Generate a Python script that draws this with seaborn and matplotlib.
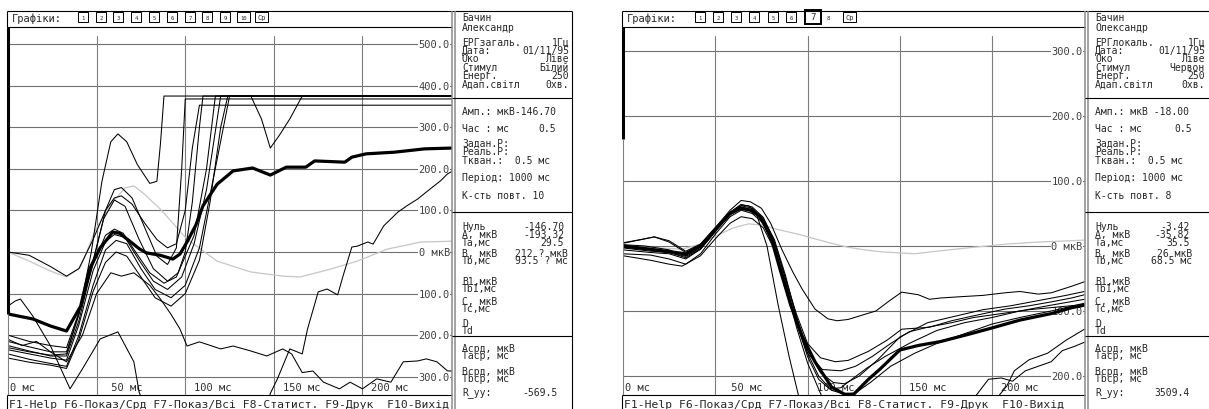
import matplotlib
matplotlib.use("Agg")
import matplotlib.pyplot as plt
import matplotlib.transforms as mtransforms
from matplotlib.patches import Rectangle
from matplotlib.font_manager import FontProperties
import seaborn as sns

sns.set_style("white")
plt.rcParams["font.family"] = ["DejaVu Sans Mono", "DejaVu Sans"]

# ---------------- left screen: ЕРГ загальна, 10 curves, ms / мкВ
left_mean_t = [0, 14, 24, 33, 41, 46, 52, 56, 59, 63, 69, 74, 78, 86, 93, 97, 101, 106, 110, 118, 127, 138, 148, 157, 168, 173, 190, 194, 202, 218, 235, 251]
left_mean_v = [-149, -161, -178, -190, -130, -41, 10, 31, 48, 45, 25, 8, -2, -8, -17, -5, 24, 65, 111, 163, 195, 202, 185, 204, 204, 219, 216, 228, 236, 240, 248, 250]
left_gray_t = [0, 12, 24, 33, 41, 49, 58, 66, 71, 77, 86, 101, 118, 137, 155, 165, 182, 197, 214, 233, 251]
left_gray_v = [0, -22, -46, -60, -36, 50, 115, 154, 159, 139, 103, 31, -22, -48, -58, -60, -41, -22, 7, 24, 26]

l1_t = [0, 12, 24, 33, 40, 48, 55, 60, 64, 70, 77, 84, 90, 95, 100, 104, 108, 251]
l1_v = [0, -8, -35, -58, -40, 30, 100, 130, 135, 115, 70, 30, 10, 20, 100, 250, 353, 353]
l2_t = [0, 12, 24, 33, 40, 47, 53, 58, 62, 67, 73, 80, 84, 86, 88, 251]
l2_v = [-215, -228, -240, -240, -150, 0, 170, 265, 284, 265, 210, 165, 170, 260, 375, 375]
l3_t = [0, 12, 24, 33, 40, 48, 55, 60, 64, 70, 77, 84, 90, 95, 98, 100, 251]
l3_v = [-225, -238, -250, -250, -165, -25, 100, 150, 155, 130, 60, -10, -30, 10, 200, 368, 368]
l4_t = [0, 12, 24, 33, 40, 48, 55, 60, 65, 72, 80, 88, 95, 105, 112, 117, 137, 143, 148, 153, 159, 166, 251]
l4_v = [-200, -215, -225, -230, -145, -30, 40, 55, 45, 0, -50, -75, -60, 40, 200, 375, 375, 320, 250, 280, 320, 375, 375]
l5_t = [0, 12, 24, 33, 40, 48, 55, 60, 66, 74, 82, 90, 98, 105, 112, 120, 251]
l5_v = [-235, -245, -255, -260, -175, -45, 25, 42, 35, -20, -70, -90, -60, 20, 150, 375, 375]
l6_t = [0, 12, 24, 33, 40, 48, 55, 61, 67, 75, 83, 92, 100, 108, 116, 125, 251]
l6_v = [-245, -258, -268, -275, -200, -80, 5, 28, 20, -40, -90, -110, -80, 10, 180, 375, 375]
l7_t = [0, 4, 7, 14, 24, 35, 42, 52, 62, 71, 74, 78, 146, 148, 152, 159, 166, 169, 175, 180, 186, 189, 194, 197, 203, 206, 212, 220, 225, 231, 238, 244, 248, 251]
l7_v = [-130, -118, -113, -154, -226, -329, -281, -209, -192, -264, -337, -380, -380, -340, -305, -233, -245, -185, -96, -89, -103, -58, 12, 14, 24, 19, 63, 96, 111, 127, 151, 171, 188, 195]
l8_t = [0, 8, 16, 24, 33, 42, 50, 58, 64, 71, 80, 86, 92, 97, 101, 108, 120, 127, 137, 146, 155, 160, 166, 172, 178, 187, 193, 200, 208, 216, 223, 231, 236, 242, 248, 251]
l8_v = [-210, -225, -215, -240, -264, -200, -100, -50, -58, -50, -80, -113, -150, -185, -226, -216, -233, -226, -238, -250, -233, -245, -290, -286, -313, -329, -313, -329, -305, -313, -264, -262, -257, -264, -286, -286]
l9_t = [0, 12, 24, 33, 40, 48, 55, 61, 67, 75, 83, 92, 100, 108, 114, 120, 124, 251]
l9_v = [-255, -265, -272, -280, -210, -95, -25, 0, -10, -60, -110, -130, -100, -20, 120, 300, 375, 375]
l10_t = [0, 12, 24, 33, 40, 48, 54, 60, 66, 74, 82, 90, 96, 100, 104, 108, 110, 251]
l10_v = [-230, -240, -248, -245, -150, -20, 80, 125, 110, 30, -40, -70, -50, 0, 120, 300, 375, 375]

left_yticks = [500, 400, 300, 200, 100, 0, -100, -200, -300]
left_ylabels = ["500.0", "400.0", "300.0", "200.0", "100.0", "0 мкВ", "100.0", "200.0", "300.0"]

# ---------------- right screen: ЕРГ локальна, 8 curves
right_mean_t = [0, 15, 23, 34, 42, 50, 58, 64, 69, 74, 80, 85, 91, 97, 104, 113, 120, 125, 133, 139, 150, 160, 172, 187, 200, 215, 232, 243, 250]
right_mean_v = [0, -5, -8, -12, 0, 26, 50, 58, 55, 46, 15, -35, -92, -138, -178, -217, -228, -228, -205, -190, -160, -153, -147, -136, -126, -114, -104, -95, -91]
right_gray_t = [0, 20, 32, 42, 50, 60, 68, 76, 83, 95, 104, 113, 122, 131, 140, 158, 170, 190, 208, 225, 250]
right_gray_v = [0, -3, -5, 3, 15, 28, 34, 32, 26, 18, 11, 4, -2, -6, -9, -12, -8, -2, 3, 6, 9]

r1_t = [0, 10, 17, 25, 34, 42, 50, 58, 64, 69, 75, 80, 86, 92, 97, 104, 111, 116, 122, 130, 137, 144, 151, 160, 166, 172, 183, 195, 207, 215, 225, 232, 243, 250]
r1_v = [5, 10, 14, 8, -8, 3, 28, 55, 70, 68, 58, 35, -5, -40, -66, -97, -112, -115, -113, -106, -100, -85, -71, -75, -82, -80, -78, -76, -72, -70, -74, -72, -62, -55]
r2_t = [0, 15, 25, 34, 42, 50, 58, 64, 70, 76, 82, 88, 94, 100, 107, 115, 122, 133, 143, 151, 166, 178, 189, 207, 220, 232, 243, 250]
r2_v = [-3, -8, -10, -18, -5, 22, 48, 60, 56, 40, 5, -50, -105, -150, -172, -178, -176, -162, -145, -128, -125, -115, -108, -97, -92, -86, -80, -75]
r3_t = [0, 15, 25, 34, 42, 50, 58, 64, 70, 76, 82, 88, 94, 100, 108, 118, 126, 135, 145, 155, 165, 178, 190, 205, 220, 235, 250]
r3_v = [-12, -14, -20, -28, -12, 18, 45, 55, 50, 35, -5, -60, -120, -165, -190, -192, -185, -170, -150, -132, -125, -118, -110, -104, -98, -94, -90]
r4_t = [0, 12, 25, 34, 42, 50, 58, 64, 70, 76, 82, 88, 94, 100, 106, 113, 120, 126, 134, 145, 158, 170, 185, 200, 215, 232, 250]
r4_v = [2, 0, -6, -15, -2, 25, 52, 62, 58, 42, 10, -45, -110, -165, -200, -222, -228, -226, -210, -185, -165, -150, -135, -120, -110, -100, -88]
r5_t = [0, 15, 25, 34, 42, 50, 58, 64, 68, 72, 78, 84, 90, 95, 99, 103, 189, 191, 198, 205, 211, 218, 225, 232, 238, 245, 250]
r5_v = [-6, -10, -12, -20, -5, 22, 50, 62, 62, 52, 0, -90, -170, -229, -290, -340, -340, -231, -205, -203, -208, -192, -185, -178, -161, -154, -148]
r6_t = [0, 15, 25, 32, 42, 50, 58, 64, 70, 76, 82, 88, 94, 100, 106, 112, 200, 204, 208, 212, 220, 230, 240, 250]
r6_v = [-15, -22, -28, -31, -15, 11, 35, 45, 42, 28, -5, -60, -125, -180, -220, -260, -260, -229, -215, -192, -175, -165, -145, -128]
r7_t = [0, 10, 17, 25, 34, 42, 50, 58, 64, 70, 76, 82, 88, 94, 100, 107, 114, 120, 128, 138, 150, 165, 180, 195, 210, 225, 240, 250]
r7_v = [4, 10, 14, 6, -10, 2, 26, 52, 64, 60, 44, 8, -50, -110, -160, -195, -210, -212, -200, -175, -140, -118, -108, -98, -92, -84, -76, -70]
r8_t = [0, 15, 25, 34, 42, 50, 58, 64, 70, 76, 82, 88, 94, 100, 106, 112, 118, 124, 132, 142, 155, 170, 185, 200, 215, 230, 250]
r8_v = [-2, -6, -10, -16, -4, 24, 48, 58, 54, 38, 0, -55, -118, -170, -205, -220, -218, -205, -188, -170, -150, -130, -118, -110, -100, -92, -82]

right_yticks = [300, 200, 100, 0, -100, -200]
right_ylabels = ["300.0", "200.0", "100.0", "0 мкВ", "100.0", "200.0"]

x_ticks = [0, 50, 100, 150, 200]

left_traces = [(l1_t, l1_v), (l2_t, l2_v), (l3_t, l3_v), (l4_t, l4_v), (l5_t, l5_v),
               (l6_t, l6_v), (l7_t, l7_v), (l8_t, l8_v), (l9_t, l9_v), (l10_t, l10_v)]
right_traces = [(r1_t, r1_v), (r2_t, r2_v), (r3_t, r3_v), (r4_t, r4_v),
                (r5_t, r5_v), (r6_t, r6_v), (r7_t, r7_v), (r8_t, r8_v)]

W, H = 1209, 410
fig = plt.figure(figsize=(W / 100, H / 100), dpi=100)
FS = 7.5   # plot labels / header
KS = 8.2   # function key bar
PS = 7     # side panel text


def px_axes(x0, y0, x1, y1):
    return fig.add_axes([x0 / W, 1 - y1 / H, (x1 - x0) / W, (y1 - y0) / H])


def draw_plot(ax, traces, gray, mean, xmax, ylim, yticks, ylabels):
    ax.set_xlim(0, xmax)
    ax.set_ylim(*ylim)
    for s in ax.spines.values():
        s.set_visible(False)
    ax.set_xticks([])
    ax.set_yticks([])
    for v in yticks:
        ax.axhline(v, color="#707070", lw=0.8, zorder=1)
    for t in x_ticks[1:]:
        ax.axvline(t, ymax=0.975, color="#7c7c7c", lw=0.8, zorder=1)
    tr = mtransforms.blended_transform_factory(ax.transAxes, ax.transData)
    for v, lab in zip(yticks, ylabels):
        ax.text(0.995, v, lab, transform=tr, ha="right", va="center", fontsize=FS,
                color="#404040", zorder=1.5,
                bbox=dict(boxstyle="square,pad=0.05", fc="white", ec="none"))
    trx = mtransforms.blended_transform_factory(ax.transData, ax.transAxes)
    for t in x_ticks:
        lab = "0 мс" if t == 0 else f"{t:>3} мс"
        ax.text(t + (1 if t == 0 else 5), 0.022, lab, transform=trx, ha="left",
                va="center", fontsize=FS, color="#303030", zorder=1.5)
    sns.lineplot(x=gray[0], y=gray[1], ax=ax, color="#c6c6c6", lw=0.9,
                 sort=False, estimator=None, zorder=2)
    for t, v in traces:
        sns.lineplot(x=t, y=v, ax=ax, color="black", lw=0.75,
                     sort=False, estimator=None, zorder=3)
    sns.lineplot(x=mean[0], y=mean[1], ax=ax, color="black", lw=2.3,
                 sort=False, estimator=None, zorder=4)
    ax.set_xlabel("")
    ax.set_ylabel("")


axL = px_axes(8, 28, 452, 396)
draw_plot(axL, left_traces, (left_gray_t, left_gray_v), (left_mean_t, left_mean_v),
          250.5, (-343.8, 541), left_yticks, left_ylabels)
axR = px_axes(623, 28, 1085, 396)
draw_plot(axR, right_traces, (right_gray_t, right_gray_v), (right_mean_t, right_mean_v),
          250.3, (-229.2, 336.8), right_yticks, right_ylabels)

# ---------------- overlay in screen pixels: frames, header, text panels
ov = fig.add_axes([0, 0, 1, 1], zorder=5)
ov.set_xlim(0, W)
ov.set_ylim(H, 0)
ov.axis("off")
ov.patch.set_alpha(0)

# line metrics of the panel font, to place multi-line blocks by pixel
renderer = fig.canvas.get_renderer()
fp = FontProperties(family=["DejaVu Sans Mono"], size=PS)
_, LP_H, LP_D = renderer.get_text_width_height_descent("lp", fp, ismath=False)
ASC = LP_H - LP_D
CAP = 0.73 * PS * 100 / 72


def line(x, y, **kw):
    kw.setdefault("color", "black")
    kw.setdefault("lw", 0.8)
    ov.plot(x, y, solid_capstyle="butt", **kw)


def block(x, y, lines, step, ha="left"):
    # y = centre of first line, step = px between lines
    ov.text(x, y + CAP / 2 - ASC, "\n".join(lines), fontsize=PS, va="top", ha=ha,
            multialignment=ha, linespacing=(step - LP_D) / ASC)


def screen(x0, thick_to, bar, panel_right, box_x, box_labels, box_hi, panel):
    line([x0 - 1, panel_right], [12, 12])
    line([x0 - 1, bar], [28, 28])
    line([x0 - 1, x0 - 1], [12, 28])
    line([x0, x0], [28, thick_to], lw=2.2)
    line([x0, x0], [thick_to, 396], color="#808080", lw=0.8)
    line([x0 - 1, bar], [396, 396])
    line([x0 - 1, x0 - 1], [396, 410])
    for bx in (bar, bar + 3):
        line([bx, bx], [12, 410], color="#8a8a8a", lw=1.1)
    if panel_right < W:
        line([panel_right, panel_right], [12, 410])
    for yd in (99, 213, 337):
        line([bar, panel_right], [yd, yd])
    ov.text(x0 + 4, 19, "Графіки:", fontsize=FS, va="center", ha="left")
    for bx, lab in zip(box_x, box_labels):
        if lab == "8" and box_hi is not None:
            ov.text(bx + 2, 18, lab, fontsize=4, ha="center", va="center")
            continue
        w = 13 if lab in ("10", "Cp") else 10
        if lab == box_hi:
            ov.add_patch(Rectangle((bx, 11), 16, 14, fill=False, lw=1.4, ec="black"))
            ov.text(bx + 8, 18, lab, fontsize=6.5, ha="center", va="center")
        else:
            ov.add_patch(Rectangle((bx, 13), w, 10, fill=False, lw=0.7, ec="black"))
            ov.text(bx + w / 2, 18.3, lab, fontsize=4 if lab != "Cp" else 5,
                    ha="center", va="center")
    ov.text(x0 + 1, 405, "F1-Help F6-Показ/Срд F7-Показ/Всі F8-Статист. F9-Друк  F10-Вихід",
            fontsize=KS, va="center", ha="left")
    tx = bar + 10
    for y, labels, step, vals, vx in panel:
        block(tx, y, labels, step)
        if vals:
            block(vx, y, vals, step, ha="right")


# (first-line y, labels, line step, values, right edge of values)
left_panel = [
    (17, ["Бачин", "Александр"], 10, None, 0),
    (42, ["ЕРГзагаль.", "Дата:", "Око", "Стимул", "Енерг.", "Адап.світл"], 8.4,
     ["1Гц", "01/11/95", "Ліве", "Білий", "250", "0хв."], 569),
    (111, ["Амп.: мкВ-146.70"], 8, None, 0),
    (128, ["Час : мс"], 8, ["0.5"], 556),
    (143, ["Задан.Р:", "Реаль.Р:", "Тквaн.:  0.5 мс"], 8.5, None, 0),
    (177, ["Період: 1000 мс"], 8, None, 0),
    (195, ["К-сть повт. 10"], 8, None, 0),
    (226, ["Нуль", "А, мкВ", "Та,мс"], 8, ["-146.70", "-193.32", "29.5"], 564),
    (253, ["В, мкВ", "Тb,мс"], 7, ["212 ? мкВ", "93.5 ? мс"], 568),
    (281, ["В1,мкВ", "Тb1,мс"], 7, None, 0),
    (301, ["С, мкВ", "Тс,мс"], 7, None, 0),
    (323, ["D", "Тd"], 7, None, 0),
    (348, ["Асрд, мкВ", "Тасp, мс"], 7, None, 0),
    (371, ["Вcрд, мкВ", "Тbcp, мс"], 7, None, 0),
    (392, ["R_уу:"], 8, ["-569.5"], 558),
]
right_panel = [
    (17, ["Бачин", "Олександр"], 10, None, 0),
    (42, ["ЕРГлокаль.", "Дата:", "Око", "Стимул", "Енерг.", "Адап.світл"], 8.4,
     ["1Гц", "01/11/95", "Ліве", "Червон", "250", "0хв."], 1205),
    (111, ["Амп.: мкВ -18.00"], 8, None, 0),
    (128, ["Час : мс"], 8, ["0.5"], 1192),
    (143, ["Задан.Р:", "Реаль.Р:", "Тквaн.:  0.5 мс"], 8.5, None, 0),
    (177, ["Період: 1000 мс"], 8, None, 0),
    (195, ["К-сть повт. 8"], 8, None, 0),
    (226, ["Нуль", "А, мкВ", "Та,мс"], 8, ["-3.42", "-35.82", "35.5"], 1190),
    (253, ["В, мкВ", "Тb,мс"], 7, ["26 мкВ", "68.5 мс"], 1192),
    (281, ["В1,мкВ", "Тb1,мс"], 7, None, 0),
    (301, ["С, мкВ", "Тс,мс"], 7, None, 0),
    (323, ["D", "Тd"], 7, None, 0),
    (348, ["Асрд, мкВ", "Тасp, мс"], 7, None, 0),
    (371, ["Вcрд, мкВ", "Тbcp, мс"], 7, None, 0),
    (392, ["R_уу:"], 8, ["3509.4"], 1190),
]

left_box_x = [78, 96, 113, 131, 149, 167, 185, 202, 220, 237, 255]
left_box_labels = ["1", "2", "3", "4", "5", "6", "7", "8", "9", "10", "Cp"]
right_box_x = [695, 713, 731, 749, 768, 786, 805, 826, 843]
right_box_labels = ["1", "2", "3", "4", "5", "6", "7", "8", "Cp"]

screen(8, 315, 452, 572, left_box_x, left_box_labels, None, left_panel)
screen(623, 140, 1085, W + 5, right_box_x, right_box_labels, "7", right_panel)

fig.savefig("out.png", dpi=100, facecolor="white")
